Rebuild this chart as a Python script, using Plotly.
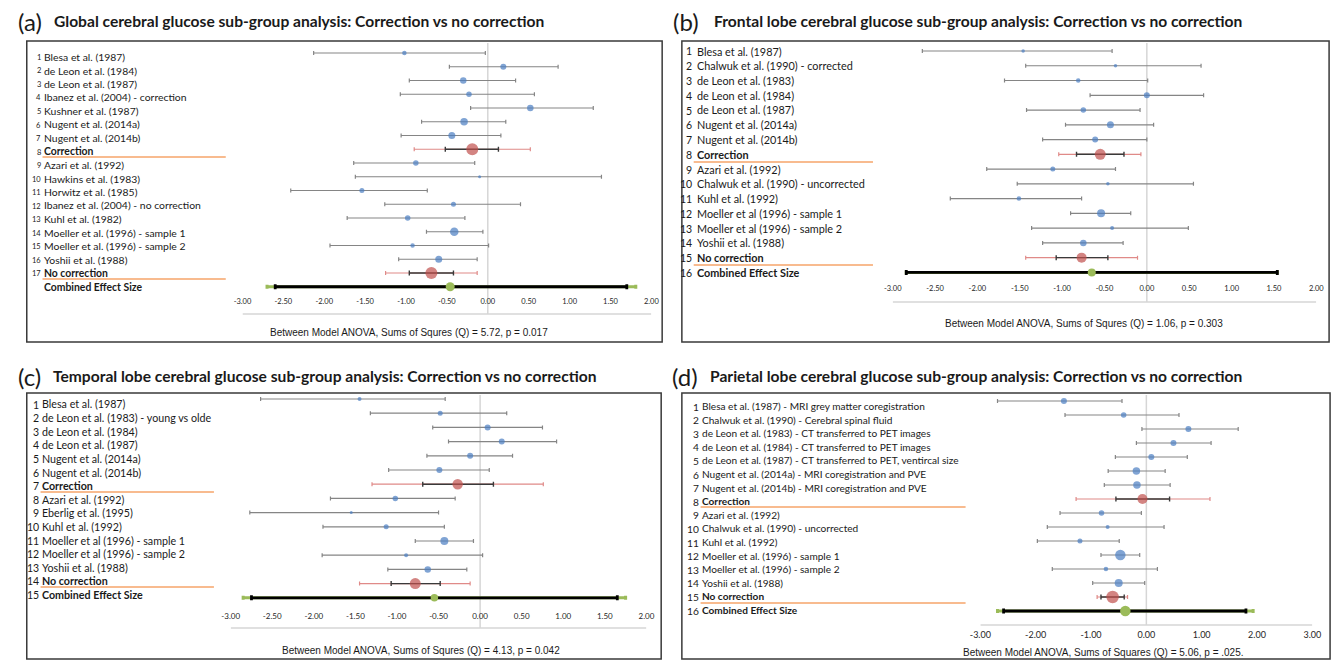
import plotly.graph_objects as go

W, H = 1344, 660

# ---------------- DATA ----------------
a_labels = ["Blesa et al. (1987)", "de Leon et al. (1984)", "de Leon et al. (1987)",
            "Ibanez et al. (2004) - correction", "Kushner et al. (1987)", "Nugent et al. (2014a)",
            "Nugent et al. (2014b)", "Correction", "Azari et al. (1992)", "Hawkins et al. (1983)",
            "Horwitz et al. (1985)", "Ibanez et al. (2004) - no correction", "Kuhl et al. (1982)",
            "Moeller et al. (1996) - sample 1", "Moeller et al. (1996) - sample 2",
            "Yoshii et al. (1988)", "No correction", "Combined Effect Size"]
a_est = [-1.02, 0.19, -0.30, -0.23, 0.52, -0.29, -0.44, -0.19, -0.88, -0.10, -1.54, -0.42,
         -0.98, -0.41, -0.92, -0.60, -0.69, -0.46]
a_lo = [-2.13, -0.47, -0.96, -1.07, -0.21, -0.81, -1.06, -0.52, -1.64, -1.62, -2.41, -1.26,
        -1.72, -0.75, -1.93, -1.09, -0.96, -2.60]
a_hi = [-0.03, 0.86, 0.34, 0.57, 1.29, 0.22, 0.16, 0.13, -0.16, 1.39, -0.74, 0.40,
        -0.28, -0.06, 0.01, -0.13, -0.42, 1.70]
a_weight = [4.5, 6, 6.5, 5.5, 6.5, 7.5, 7, 12, 5.5, 3, 5, 5, 5.5, 8.5, 4.5, 7, 12, 9]
a_outer_lo = [-0.90, -1.25, -2.70]   # Correction, No correction, Combined
a_outer_hi = [0.52, -0.13, 1.81]
a_ticks = ["-3.00", "-2.50", "-2.00", "-1.50", "-1.00", "-0.50", "0.00", "0.50", "1.00", "1.50", "2.00"]
a_title = "Global cerebral glucose sub-group analysis: Correction vs no correction"
a_anova = "Between Model ANOVA, Sums of Squres (Q) = 5.72, p = 0.017"

b_labels = ["Blesa et al. (1987)", "Chalwuk et al. (1990) - corrected", "de Leon et al. (1983)",
            "de Leon et al. (1984)", "de Leon et al. (1987)", "Nugent et al. (2014a)",
            "Nugent et al. (2014b)", "Correction", "Azari et al. (1992)",
            "Chalwuk et al. (1990) - uncorrected", "Kuhl et al. (1992)",
            "Moeller et al (1996) - sample 1", "Moeller et al (1996) - sample 2",
            "Yoshii et al. (1988)", "No correction", "Combined Effect Size"]
b_est = [-1.46, -0.37, -0.81, 0.00, -0.75, -0.43, -0.61, -0.55, -1.11, -0.46, -1.51, -0.54,
         -0.41, -0.75, -0.77, -0.65]
b_lo = [-2.65, -1.43, -1.68, -0.67, -1.42, -0.96, -1.23, -0.83, -1.89, -1.53, -2.32, -0.90,
        -1.36, -1.23, -1.07, -2.84]
b_hi = [-0.41, 0.64, 0.01, 0.67, -0.08, 0.08, 0.00, -0.27, -0.37, 0.55, -0.77, -0.19,
        0.49, -0.28, -0.46, 1.54]
b_weight = [3.5, 3.5, 4.5, 6, 5.5, 7, 6, 11, 5, 3.5, 4.5, 8, 4, 6.5, 10, 8]
b_outer_lo = [-1.04, -1.43, -2.84]
b_outer_hi = [-0.07, -0.11, 1.54]
b_ticks = a_ticks
b_title = "Frontal lobe cerebral glucose sub-group analysis: Correction vs no correction"
b_anova = "Between Model ANOVA, Sums of Squres (Q) = 1.06, p = 0.303"

c_labels = ["Blesa et al. (1987)", "de Leon et al. (1983) - young vs olde", "de Leon et al. (1984)",
            "de Leon et al. (1987)", "Nugent et al. (2014a)", "Nugent et al. (2014b)",
            "Correction", "Azari et al. (1992)", "Eberlig et al. (1995)", "Kuhl et al. (1992)",
            "Moeller et al (1996) - sample 1", "Moeller et al (1996) - sample 2",
            "Yoshii et al. (1988)", "No correction", "Combined Effect Size"]
c_est = [-1.45, -0.48, 0.09, 0.26, -0.12, -0.49, -0.27, -1.02, -1.55, -1.13, -0.43, -0.89,
         -0.63, -0.78, -0.55]
c_lo = [-2.64, -1.32, -0.57, -0.38, -0.64, -1.10, -0.69, -1.80, -2.77, -1.89, -0.78, -1.90,
        -1.11, -1.07, -2.75]
c_hi = [-0.42, 0.32, 0.75, 0.92, 0.39, 0.11, 0.16, -0.30, -0.50, -0.43, -0.08, 0.03,
        -0.16, -0.48, 1.65]
c_weight = [4, 5, 6, 6, 6, 6, 10.5, 5.5, 3, 5, 8, 4, 6.5, 11, 7.5]
c_outer_lo = [-1.30, -1.45, -2.85]
c_outer_hi = [0.76, -0.12, 1.75]
c_ticks = a_ticks
c_title = "Temporal lobe cerebral glucose sub-group analysis: Correction vs no correction"
c_anova = "Between Model ANOVA, Sums of Squres (Q) = 4.13, p = 0.042"

d_labels = ["Blesa et al. (1987) - MRI grey matter coregistration",
            "Chalwuk et al. (1990) - Cerebral spinal fluid",
            "de Leon et al. (1983) - CT transferred to PET images",
            "de Leon et al. (1984) - CT transferred to PET images",
            "de Leon et al. (1987) - CT transferred to PET, ventircal size",
            "Nugent et al. (2014a) - MRI coregistration and PVE",
            "Nugent et al. (2014b) - MRI coregistration and PVE", "Correction",
            "Azari et al. (1992)", "Chalwuk et al. (1990) - uncorrected", "Kuhl et al. (1992)",
            "Moeller et al. (1996) - sample 1", "Moeller et al. (1996) - sample 2",
            "Yoshii et al. (1988)", "No correction", "Combined Effect Size"]
d_est = [-1.49, -0.41, 0.76, 0.49, 0.09, -0.18, -0.17, -0.07, -0.81, -0.70, -1.20, -0.47,
         -0.73, -0.50, -0.61, -0.38]
d_lo = [-2.69, -1.47, -0.08, -0.18, -0.56, -0.69, -0.76, -0.55, -1.56, -1.79, -1.97, -0.82,
        -1.70, -0.97, -0.82, -2.58]
d_hi = [-0.44, 0.59, 1.66, 1.17, 0.74, 0.34, 0.43, 0.42, -0.09, 0.32, -0.49, -0.12,
        0.20, -0.03, -0.40, 1.80]
d_weight = [6, 5.5, 6, 6, 6, 7.5, 7.5, 10, 5.5, 4, 5, 10.5, 4.5, 8, 12.5, 10.5]
d_outer_lo = [-1.27, -0.89, -2.69]
d_outer_hi = [1.15, -0.34, 1.93]
d_ticks = ["-3.00", "-2.00", "-1.00", "0.00", "1.00", "2.00", "3.00"]
d_title = "Parietal lobe cerebral glucose sub-group analysis: Correction vs no correction"
d_anova = "Between Model ANOVA, Sums of Squares (Q) = 5.06, p = .025."

# ---------------- STYLE ----------------
BLUE = "#4A7EC2"
RED = "#C0504D"
GREEN = "#9BBB59"
ORANGE = "#F6A56A"
CI_GRAY = "#858585"
RED_LIGHT = "#E08A88"
ZERO_GRAY = "#D6D6D6"
TEXT = "Lato, Liberation Sans, Arial, sans-serif"
SANS = "Liberation Sans, Arial, sans-serif"


def fx(x):
    return x / W


def fy(y):
    return 1 - y / H


panels = [
    dict(letter="(a)", labels=a_labels, est=a_est, lo=a_lo, hi=a_hi, w=a_weight,
         olo=a_outer_lo, ohi=a_outer_hi, ticks=a_ticks, title=a_title, anova=a_anova,
         box=(16, 41, 661, 342), xdom=(235, 650), row1=53, step=13.75,
         txt1=57, tstep=13.5, num_r=30, name_x=33, num_font=7.5, name_font=10.4,
         orange=(32, 218), oy=(157, 279), axline=314, tick_font=7.5, standoff=2,
         anova_xy=(404, 332), letter_xy=(7, 21), title_x=44, title_y=21, zero_top=43,
         number_combined=False),
    dict(letter="(b)", labels=b_labels, est=b_est, lo=b_lo, hi=b_hi, w=b_weight,
         olo=b_outer_lo, ohi=b_outer_hi, ticks=b_ticks, title=b_title, anova=b_anova,
         box=(681, 41, 1338, 342), xdom=(895, 1325), row1=51, step=14.76,
         txt1=51, tstep=14.75, num_r=691, name_x=696, num_font=10.5, name_font=10.85,
         orange=(693, 875), oy=(162, 265), axline=302, tick_font=7.5, standoff=3,
         anova_xy=(1089, 323), letter_xy=(672, 21), title_x=714, title_y=21, zero_top=43,
         number_combined=True),
    dict(letter="(c)", labels=c_labels, est=c_est, lo=c_lo, hi=c_hi, w=c_weight,
         olo=c_outer_lo, ohi=c_outer_hi, ticks=c_ticks, title=c_title, anova=c_anova,
         box=(16, 393, 660, 659), xdom=(223, 645), row1=399, step=14.2,
         txt1=404, tstep=13.6, num_r=28, name_x=31.5, num_font=10.5, name_font=10.7,
         orange=(30, 206), oy=(492, 587), axline=628, tick_font=8, standoff=5,
         anova_xy=(416, 650), letter_xy=(7, 376), title_x=43, title_y=376, zero_top=395,
         number_combined=True),
    dict(letter="(d)", labels=d_labels, est=d_est, lo=d_lo, hi=d_hi, w=d_weight,
         olo=d_outer_lo, ohi=d_outer_hi, ticks=d_ticks, title=d_title, anova=d_anova,
         box=(681, 393, 1339, 659), xdom=(984, 1321), row1=401, step=14.0,
         txt1=406, tstep=13.6, num_r=698, name_x=701, num_font=10.2, name_font=10.1,
         orange=(700, 969), oy=(507, 603), axline=625, tick_font=9, standoff=10,
         anova_xy=(1109, 652), letter_xy=(671, 376), title_x=710, title_y=376, zero_top=395,
         number_combined=True),
]

fig = go.Figure()
shapes = []
annotations = []
layout_axes = {}

SUMMARY = ("Correction", "No correction", "Combined Effect Size")

for i, p in enumerate(panels):
    idx = "" if i == 0 else str(i + 1)
    xa, ya = "x" + idx, "y" + idx
    n = len(p["labels"])
    rows = list(range(1, n + 1))
    ticks = [float(t) for t in p["ticks"]]
    x0, x1 = ticks[0], ticks[-1]

    top_px = p["row1"] - p["step"] / 2
    bot_px = p["row1"] + (n - 0.5) * p["step"]
    layout_axes["xaxis" + idx] = dict(
        domain=[fx(p["xdom"][0]), fx(p["xdom"][1])], range=[x0, x1], anchor=ya,
        tickvals=ticks, ticktext=p["ticks"], showgrid=False, zeroline=False,
        showline=False, ticks="", ticklabelstandoff=p["standoff"],
        tickfont=dict(family=TEXT, size=p["tick_font"], color="#262626"), fixedrange=True)
    layout_axes["yaxis" + idx] = dict(
        domain=[fy(bot_px), fy(top_px)], range=[n + 0.5, 0.5], anchor=xa, visible=False,
        fixedrange=True)

    # individual studies
    s_idx = [k for k in range(n) if p["labels"][k] not in SUMMARY]
    fig.add_trace(go.Scatter(
        x=[p["est"][k] for k in s_idx], y=[rows[k] for k in s_idx], mode="markers",
        marker=dict(size=[p["w"][k] for k in s_idx], color=BLUE, line=dict(width=0)),
        error_x=dict(type="data", symmetric=False,
                     array=[p["hi"][k] - p["est"][k] for k in s_idx],
                     arrayminus=[p["est"][k] - p["lo"][k] for k in s_idx],
                     color=CI_GRAY, thickness=1.2, width=2),
        xaxis=xa, yaxis=ya, showlegend=False, hoverinfo="skip"))

    # subgroup summaries
    g_idx = [k for k in range(n) if p["labels"][k] in SUMMARY[:2]]
    fig.add_trace(go.Scatter(
        x=[p["est"][k] for k in g_idx], y=[rows[k] for k in g_idx], mode="markers",
        marker=dict(size=1, color="rgba(0,0,0,0)"),
        error_x=dict(type="data", symmetric=False,
                     array=[p["ohi"][j] - p["est"][k] for j, k in enumerate(g_idx)],
                     arrayminus=[p["est"][k] - p["olo"][j] for j, k in enumerate(g_idx)],
                     color=RED_LIGHT, thickness=1.2, width=2),
        xaxis=xa, yaxis=ya, showlegend=False, hoverinfo="skip"))
    fig.add_trace(go.Scatter(
        x=[p["est"][k] for k in g_idx], y=[rows[k] for k in g_idx], mode="markers",
        marker=dict(size=[p["w"][k] for k in g_idx], color=RED, line=dict(width=0)),
        error_x=dict(type="data", symmetric=False,
                     array=[p["hi"][k] - p["est"][k] for k in g_idx],
                     arrayminus=[p["est"][k] - p["lo"][k] for k in g_idx],
                     color="#3A3A3A", thickness=1.4, width=2.5),
        xaxis=xa, yaxis=ya, showlegend=False, hoverinfo="skip"))

    # combined effect
    k = n - 1
    fig.add_trace(go.Scatter(
        x=[p["est"][k]], y=[rows[k]], mode="markers",
        marker=dict(size=1, color="rgba(0,0,0,0)"),
        error_x=dict(type="data", symmetric=False,
                     array=[p["ohi"][2] - p["est"][k]], arrayminus=[p["est"][k] - p["olo"][2]],
                     color=GREEN, thickness=3, width=2),
        xaxis=xa, yaxis=ya, showlegend=False, hoverinfo="skip"))
    fig.add_trace(go.Scatter(
        x=[p["est"][k]], y=[rows[k]], mode="markers",
        marker=dict(size=p["w"][k], color=GREEN, line=dict(width=0)),
        error_x=dict(type="data", symmetric=False,
                     array=[p["hi"][k] - p["est"][k]], arrayminus=[p["est"][k] - p["lo"][k]],
                     color="#000000", thickness=2.8, width=2.5),
        xaxis=xa, yaxis=ya, showlegend=False, hoverinfo="skip"))

    # box
    bx0, by0, bx1, by1 = p["box"]
    shapes.append(dict(type="rect", xref="paper", yref="paper", x0=fx(bx0), x1=fx(bx1),
                       y0=fy(by1), y1=fy(by0), line=dict(color="#3A3A3A", width=1.5),
                       layer="below"))
    # zero line
    shapes.append(dict(type="line", xref=xa, yref="paper", x0=0, x1=0,
                       y0=fy(p["axline"]), y1=fy(p["zero_top"]),
                       line=dict(color=ZERO_GRAY, width=1.5), layer="below"))
    # axis base line
    shapes.append(dict(type="line", xref=xa, yref="paper", x0=x0, x1=x1,
                       y0=fy(p["axline"]), y1=fy(p["axline"]),
                       line=dict(color=ZERO_GRAY, width=1.5), layer="below"))
    # orange separators
    for oy in p["oy"]:
        shapes.append(dict(type="line", xref="paper", yref="paper",
                           x0=fx(p["orange"][0]), x1=fx(p["orange"][1]), y0=fy(oy), y1=fy(oy),
                           line=dict(color=ORANGE, width=1.3)))

    # letter + title
    annotations.append(dict(xref="paper", yref="paper", x=fx(p["letter_xy"][0]),
                            y=fy(p["letter_xy"][1]), text=p["letter"], showarrow=False,
                            xanchor="left", yanchor="middle", borderpad=0, borderwidth=0,
                            font=dict(family=TEXT, size=24, color="#1a1a1a")))
    annotations.append(dict(xref="paper", yref="paper", x=fx(p["title_x"]), y=fy(p["title_y"]),
                            text="<b>" + p["title"] + "</b>", showarrow=False,
                            xanchor="left", yanchor="middle", borderpad=0, borderwidth=0,
                            font=dict(family=TEXT, size=15.6, color="#1a1a1a")))
    # row labels
    for r, lab in enumerate(p["labels"]):
        ty = p["txt1"] + r * p["tstep"]
        bold = lab in SUMMARY
        txt = "<b>" + lab + "</b>" if bold else lab
        annotations.append(dict(xref="paper", yref="paper", x=fx(p["name_x"]), y=fy(ty),
                                text=txt, showarrow=False, xanchor="left", yanchor="middle",
                                borderpad=0, borderwidth=0,
                                font=dict(family=TEXT, size=p["name_font"], color="#1a1a1a")))
        if r < n - 1 or p["number_combined"]:
            annotations.append(dict(xref="paper", yref="paper", x=fx(p["num_r"]), y=fy(ty + 0.5),
                                    text=str(r + 1), showarrow=False, xanchor="right",
                                    yanchor="middle", borderpad=0, borderwidth=0,
                                    font=dict(family=TEXT, size=p["num_font"], color="#1a1a1a")))
    # anova note
    annotations.append(dict(xref="paper", yref="paper", x=fx(p["anova_xy"][0]),
                            y=fy(p["anova_xy"][1]), text=p["anova"], showarrow=False,
                            xanchor="center", yanchor="middle", borderpad=0, borderwidth=0,
                            font=dict(family=SANS, size=10, color="#1a1a1a")))

fig.update_layout(
    width=W, height=H, margin=dict(l=0, r=0, t=0, b=0),
    paper_bgcolor="white", plot_bgcolor="rgba(0,0,0,0)",
    shapes=shapes, annotations=annotations, showlegend=False,
    **layout_axes)

fig.write_html("out.html", config={"displayModeBar": False},
               post_script="document.body.style.margin='0';document.body.style.padding='0';")
